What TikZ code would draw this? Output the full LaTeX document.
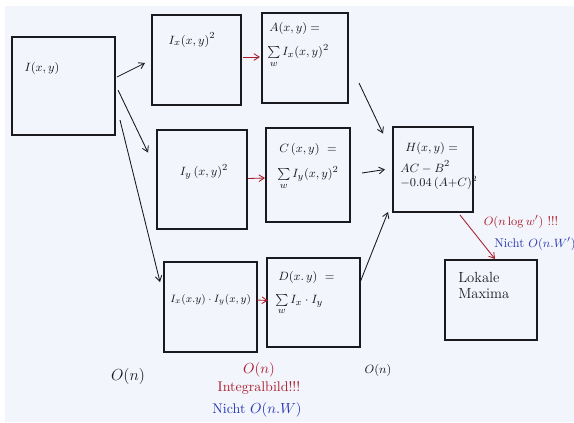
\documentclass[tikz,border=0pt]{standalone}
\usepackage{amsmath}
\usetikzlibrary{calc,arrows.meta}
\definecolor{paper}{RGB}{243,245,252}
\definecolor{ink}{RGB}{25,25,30}
\definecolor{redink}{RGB}{170,30,45}
\definecolor{blueink}{RGB}{40,55,180}
\begin{document}
\begin{tikzpicture}[x=0.75pt,y=-0.75pt,
  box/.style={draw=ink,line width=1pt,inner sep=0pt,outer sep=0pt},
  lbl/.style={inner sep=0pt,font=\fontsize{9.5}{11}\selectfont,text=ink},
  arr/.style={-{Straight Barb[length=4pt,width=5pt]},draw=ink,line width=0.65pt},
  rarr/.style={arr,draw=redink},
  big/.style={inner sep=0pt,font=\fontsize{13}{14}\selectfont,text=ink},
  rtxt/.style={inner sep=0pt,font=\fontsize{10.5}{12}\selectfont,text=redink},
  btxt/.style={inner sep=0pt,font=\fontsize{10.5}{12}\selectfont,text=blueink},
  rsm/.style={rtxt,font=\fontsize{9.5}{11}\selectfont},
  bsm/.style={btxt,font=\fontsize{9.5}{11}\selectfont}]
\useasboundingbox (0,0) rectangle (574,422);
\fill[white] (0,0) rectangle (574,422);
\fill[paper] (5,6) rectangle (574,422);
% boxes
\node[box,minimum width=77.25pt,minimum height=73.5pt] (I) at (63.5,86) {};
\node[box,minimum width=66.75pt,minimum height=67.5pt] (Ix) at (196.5,60) {};
\node[box,minimum width=64.5pt,minimum height=67.5pt] (A) at (305,58) {};
\node[box,minimum width=67.5pt,minimum height=74.25pt] (Iy) at (202,179.5) {};
\node[box,minimum width=63pt,minimum height=70.5pt] (C) at (308,175) {};
\node[box,minimum width=60pt,minimum height=63.75pt] (H) at (433,169.5) {};
\node[box,minimum width=69.75pt,minimum height=67.5pt] (Ixy) at (210.5,307) {};
\node[box,minimum width=69.75pt,minimum height=66.75pt] (D) at (313.5,302.5) {};
\node[box,minimum width=69pt,minimum height=60pt] (L) at (491,300) {};
% texts
\node[lbl] (tI) at (42,68) {$I(x,y)$};
\node[lbl] (tIx) at (192,40) {$I_x(x,y)^2$};
\node[lbl,anchor=west] (tA1) at (269,28) {$A(x,y)=$};
\node[lbl,anchor=west] (tA2) at (267,56) {$\sum\limits_{w} I_x(x,y)^2$};
\node[lbl] (tIy) at (204,172) {$I_y\,(x,y)^2$};
\node[lbl,anchor=west] (tC1) at (279,149) {$C\,(x,y)\ =$};
\node[lbl,anchor=west] (tC2) at (277,178) {$\sum\limits_{w} I_y(x,y)^2$};
\node[lbl,anchor=west] (tH1) at (405,148) {$H(x,y)=$};
\node[lbl,anchor=west] (tH2) at (400,167) {$AC-B^2$};
\node[lbl,anchor=west,font=\fontsize{8.6}{10}\selectfont] (tH3) at (400,183) {$-0.04\,(A{+}C)^2$};
\node[lbl,anchor=west,font=\fontsize{8.5}{10}\selectfont] (tIxy) at (170,300) {$I_x(x.y)\cdot I_y(x,y)$};
\node[lbl,anchor=west] (tD1) at (278,277) {$D(x.\,y)\ =$};
\node[lbl,anchor=west] (tD2) at (275,305) {$\sum\limits_{w} I_x\cdot I_y$};
\node[lbl,anchor=west,font=\fontsize{11}{12}\selectfont] (tL1) at (458,277) {Lokale};
\node[lbl,anchor=west,font=\fontsize{11}{12}\selectfont] (tL2) at (458,294) {Maxima};
\node[big] (o1) at (128,376) {$O(n)$};
\node[rtxt] (o2) at (259,370) {$O(n)$};
\node[rtxt] (ib) at (259,388) {Integralbild!!!};
\node[btxt] (nn) at (257,410) {Nicht $O(n.W)$};
\node[lbl] (o3) at (378,370) {$O(n)$};
\node[rsm] (ol) at (521,222) {$O(n\log w')$ !!!};
\node[bsm] (nw) at (535,244) {Nicht $O(n.W')$};
% connectors
\draw[arr] ($(I.east)+(2,-9)$) -- ($(Ix.west)+(-7,3)$);
\draw[arr] ($(I.east)+(3,4)$) -- ($(Iy.west)+(-9,-27)$);
\draw[arr] ($(I.east)+(5,34)$) -- ($(Ixy.west)+(-4,-25)$);
\draw[rarr] ($(Ix.east)+(2,-3)$) -- ($(A.west)+(-2,-1)$);
\draw[rarr] ($(Iy.east)+(1,-1)$) -- ($(C.west)+(-1,3)$);
\draw[rarr] ($(Ixy.east)+(0,-7)$) -- ($(D.west)+(1,-2)$);
\draw[arr] ($(A.east)+(11,25)$) -- ($(H.west)+(-10,-36)$);
\draw[arr] ($(C.east)+(12,-2)$) -- ($(H.west)+(-8,0)$);
\draw[arr] ($(D.east)+(0,-20)$) -- ($(H.south west)+(-5,0)$);
\draw[rarr] ($(H.south)+(27,3)$) -- ($(L.north)+(4,-1)$);
\end{tikzpicture}
\end{document}
